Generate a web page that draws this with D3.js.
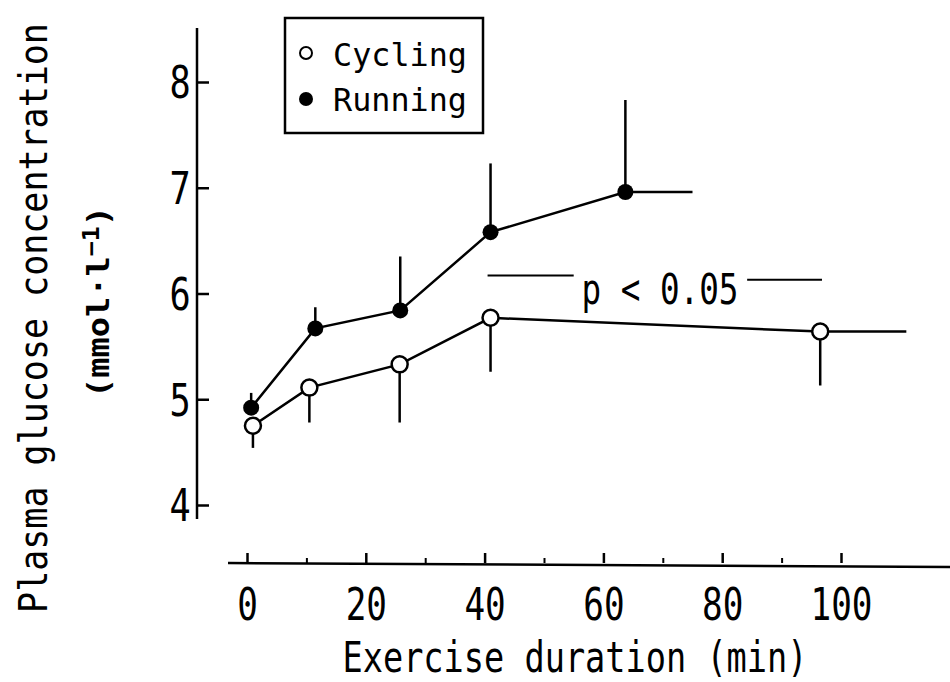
<!DOCTYPE html>
<html>
<head>
<meta charset="utf-8">
<script src="https://cdn.jsdelivr.net/npm/d3@7"></script>
<style>
  body { margin: 0; background: #fff; }
  text { font-family: "DejaVu Sans Mono", monospace; fill: #000; }
</style>
</head>
<body>
<div id="chart"></div>
<script>
// exercise time (min) and plasma glucose (mmol/l)
var cyclingTime = [1, 10.5, 25.7, 41, 96.5];
var cyclingMean = [4.75, 5.11, 5.33, 5.77, 5.64];
var cyclingLow = [4.54, 4.78, 4.78, 5.26, 5.13];   // one-sided SD, downwards
var cyclingEnd = 111;                              // line runs on past last point

var runningTime = [0.7, 11.5, 25.8, 41, 63.7];
var runningMean = [4.92, 5.67, 5.84, 6.58, 6.96];
var runningHigh = [5.06, 5.87, 6.35, 7.23, 7.83];  // one-sided SD, upwards
var runningEnd = 75;

var xMajor = [0, 20, 40, 60, 80, 100];
var xMinor = [10, 30, 50, 70, 90];
var yTicks = [4, 5, 6, 7, 8];

var width = 950, height = 682;

var svg = d3.select("#chart").append("svg")
    .attr("width", width)
    .attr("height", height);

var x = d3.scaleLinear().domain([0, 100]).range([247, 841]);
var y = d3.scaleLinear().domain([4, 8]).range([505, 82]);

// y axis: ticks point into the plot, labels on the left
var yAxisX = 197;
svg.append("line")
    .attr("x1", yAxisX).attr("x2", yAxisX)
    .attr("y1", 28).attr("y2", 519)
    .attr("stroke", "#000").attr("stroke-width", 2.5);

var yAxis = svg.append("g")
    .attr("transform", "translate(" + yAxisX + ",0)")
    .call(d3.axisLeft(y).tickValues(yTicks).tickSize(-12).tickPadding(8).tickFormat(d3.format("d")));
yAxis.select(".domain").remove();
yAxis.selectAll("line").attr("stroke", "#000").attr("stroke-width", 2.5);
yAxis.selectAll("text")
    .attr("font-size", 44)
    .attr("font-family", "DejaVu Sans Mono")
    .attr("dy", "0.36em")
    .attr("transform", "scale(0.8,1)");

// x axis
var xAxisY = 563;
svg.append("line")
    .attr("x1", 228).attr("x2", 950)
    .attr("y1", xAxisY).attr("y2", xAxisY + 4)
    .attr("stroke", "#000").attr("stroke-width", 2.5);

var xAxisMinor = svg.append("g")
    .attr("transform", "translate(0," + xAxisY + ")")
    .call(d3.axisBottom(x).tickValues(xMinor).tickSize(-5).tickFormat(""));
xAxisMinor.select(".domain").remove();
xAxisMinor.selectAll("line").attr("stroke", "#000").attr("stroke-width", 2);

var xAxis = svg.append("g")
    .attr("transform", "translate(0," + xAxisY + ")")
    .call(d3.axisBottom(x).tickValues(xMajor).tickSize(-10).tickPadding(26).tickFormat(d3.format("d")));
xAxis.select(".domain").remove();
xAxis.selectAll("line").attr("stroke", "#000").attr("stroke-width", 2.5);
xAxis.selectAll("text")
    .attr("font-size", 44)
    .attr("font-family", "DejaVu Sans Mono")
    .attr("transform", "scale(0.78,1)");

// axis titles
svg.append("text")
    .attr("x", 575).attr("y", 672)
    .attr("text-anchor", "middle")
    .attr("font-size", 42)
    .attr("textLength", 465).attr("lengthAdjust", "spacingAndGlyphs")
    .text("Exercise duration (min)");

// smaller font stretched across so its natural box stays inside the page
svg.append("text")
    .attr("transform", "translate(47,318) rotate(-90) scale(1,1.14)")
    .attr("text-anchor", "middle")
    .attr("font-size", 35)
    .text("Plasma glucose concentration");

var unit = svg.append("text")
    .attr("transform", "translate(109,302) rotate(-90)")
    .attr("text-anchor", "middle")
    .attr("font-size", 31)
    .attr("font-weight", "bold")
    .attr("textLength", 192).attr("lengthAdjust", "spacingAndGlyphs");
unit.append("tspan").text("(mmol\u00b7l");
unit.append("tspan").attr("dy", -10).attr("font-size", 23).text("\u22121");
unit.append("tspan").attr("dy", 10).text(")");

// build series
function series(t, m, e, end) {
    var pts = t.map(function (d, i) { return { t: d, v: m[i], e: e[i] }; });
    return { pts: pts, end: end };
}
var cycling = series(cyclingTime, cyclingMean, cyclingLow, cyclingEnd);
var running = series(runningTime, runningMean, runningHigh, runningEnd);

var line = d3.line().x(function (d) { return x(d.t); }).y(function (d) { return y(d.v); });

[cycling, running].forEach(function (s) {
    var last = s.pts[s.pts.length - 1];
    var path = s.pts.concat([{ t: s.end, v: last.v }]);
    svg.append("path")
        .datum(path)
        .attr("d", line)
        .attr("fill", "none")
        .attr("stroke", "#000")
        .attr("stroke-width", 2.5);
    svg.selectAll(null)
        .data(s.pts)
        .enter().append("line")
        .attr("x1", function (d) { return x(d.t); })
        .attr("x2", function (d) { return x(d.t); })
        .attr("y1", function (d) { return y(d.v); })
        .attr("y2", function (d) { return y(d.e); })
        .attr("stroke", "#000")
        .attr("stroke-width", 2.5);
});

svg.selectAll(".cyc")
    .data(cycling.pts)
    .enter().append("circle")
    .attr("class", "cyc")
    .attr("cx", function (d) { return x(d.t); })
    .attr("cy", function (d) { return y(d.v); })
    .attr("r", 8)
    .attr("fill", "#fff")
    .attr("stroke", "#000")
    .attr("stroke-width", 2.5);

svg.selectAll(".run")
    .data(running.pts)
    .enter().append("circle")
    .attr("class", "run")
    .attr("cx", function (d) { return x(d.t); })
    .attr("cy", function (d) { return y(d.v); })
    .attr("r", 8)
    .attr("fill", "#000");

// significance marker
svg.append("line")
    .attr("x1", x(40.5)).attr("x2", x(55))
    .attr("y1", y(6.17)).attr("y2", y(6.17))
    .attr("stroke", "#000").attr("stroke-width", 2);
svg.append("text")
    .attr("x", x(56.3)).attr("y", y(5.9))
    .attr("font-size", 42)
    .attr("textLength", 157).attr("lengthAdjust", "spacingAndGlyphs")
    .text("p < 0.05");
svg.append("line")
    .attr("x1", x(84.2)).attr("x2", x(96.8))
    .attr("y1", y(6.13)).attr("y2", y(6.13))
    .attr("stroke", "#000").attr("stroke-width", 2);

// legend
var lg = svg.append("g");
lg.append("rect")
    .attr("x", 285).attr("y", 18)
    .attr("width", 198).attr("height", 115)
    .attr("fill", "none")
    .attr("stroke", "#000").attr("stroke-width", 2.5);
lg.append("circle").attr("cx", 306).attr("cy", 53).attr("r", 6)
    .attr("fill", "#fff").attr("stroke", "#000").attr("stroke-width", 2);
lg.append("circle").attr("cx", 306).attr("cy", 99).attr("r", 7)
    .attr("fill", "#000");
lg.append("text").attr("x", 333).attr("y", 66)
    .attr("font-size", 32)
    .attr("textLength", 134).attr("lengthAdjust", "spacingAndGlyphs")
    .text("Cycling");
lg.append("text").attr("x", 333).attr("y", 111)
    .attr("font-size", 32)
    .attr("textLength", 134).attr("lengthAdjust", "spacingAndGlyphs")
    .text("Running");
</script>
</body>
</html>
